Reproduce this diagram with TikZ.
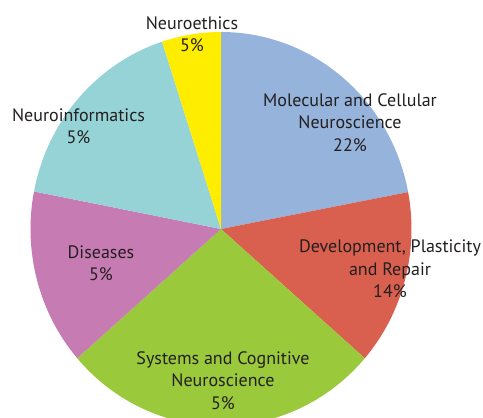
\documentclass[tikz,border=0pt]{standalone}
\usepackage{fontspec}
\setmainfont{PT Sans}
\definecolor{cblue}{HTML}{95B3DB}
\definecolor{cred}{HTML}{D9604F}
\definecolor{cgreen}{HTML}{9BC93C}
\definecolor{cpink}{HTML}{C77BB3}
\definecolor{cteal}{HTML}{96D3D6}
\definecolor{cyellow}{HTML}{FFED00}
\definecolor{ctext}{HTML}{231F20}
\tikzset{
  lbl/.style={align=center, text=ctext, inner sep=0pt,
    font=\fontsize{18}{22.5}\selectfont},
  slice/.style={draw=none}
}
\newcommand{\pieslice}[3]{%
  \fill[slice, #3] (O) -- ($(O)+(#1:190.5pt and 197pt)$)
    arc[start angle=#1, end angle=#2, x radius=190.5pt, y radius=197pt] -- cycle;}
\usetikzlibrary{calc}
\begin{document}
\begin{tikzpicture}[x=1pt,y=-1pt]
\useasboundingbox (0,0) rectangle (483,418);
\clip (0,0) rectangle (483,418);
\coordinate (O) at (221,229);
\pieslice{90}{10.8}{cblue}
\pieslice{10.8}{-41}{cred}
\pieslice{-41}{-139}{cgreen}
\pieslice{-139}{-191}{cpink}
\pieslice{169}{108}{cteal}
\pieslice{108}{90}{cyellow}
\node[lbl] (ethics) at (192,34) {Neuroethics\\5\%};
\node[lbl] (mol) at (350,122.5) {Molecular and Cellular\\Neuroscience\\22\%};
\node[lbl] (info) at (78.5,126) {Neuroinformatics\\5\%};
\node[lbl] (dev) at (390,269) {Development, Plasticity\\and Repair\\14\%};
\node[lbl] (dis) at (101,263) {Diseases\\5\%};
\node[lbl] (sys) at (223,380.5) {Systems and Cognitive\\Neuroscience\\5\%};
\end{tikzpicture}
\end{document}
